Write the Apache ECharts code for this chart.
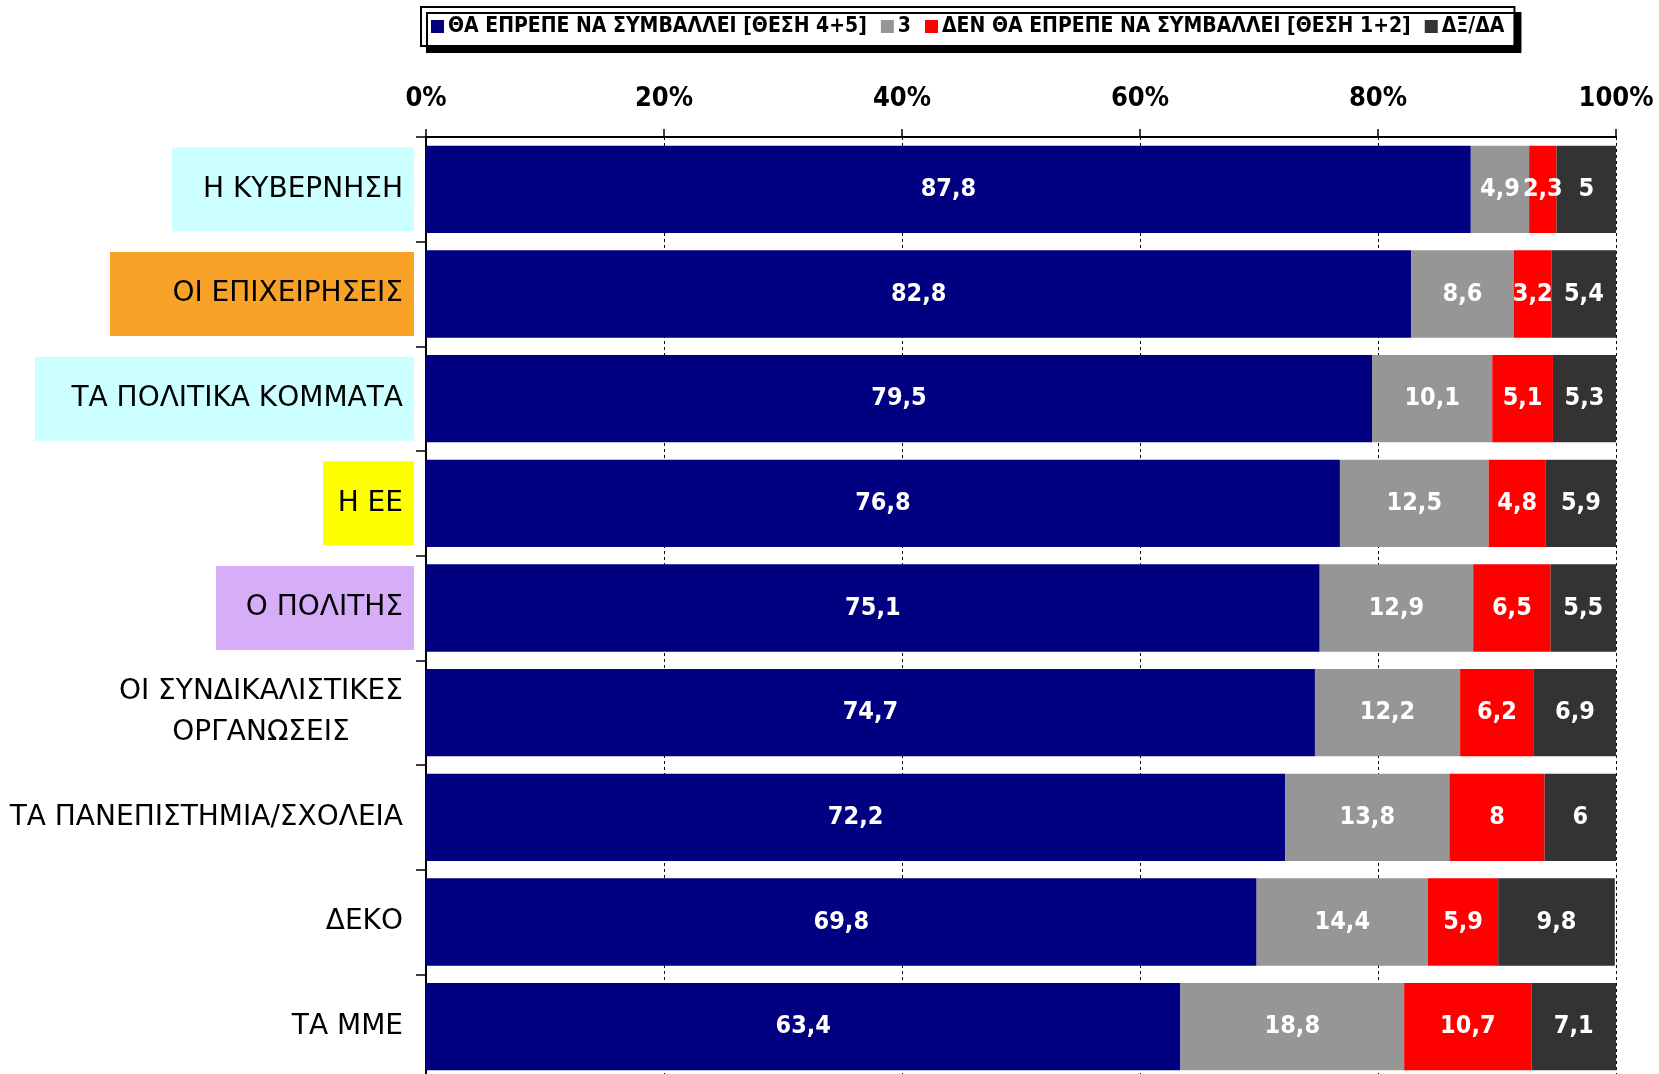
<!DOCTYPE html>
<html>
<head>
<meta charset="utf-8">
<script src="https://cdn.jsdelivr.net/npm/echarts@6/dist/echarts.min.js"></script>
<style>
  html, body { margin: 0; padding: 0; background: #fff; }
  #chart { width: 1659px; height: 1074px; }
</style>
</head>
<body>
<div id="chart"></div>
<script>
// data
const categories = [
  'Η ΚΥΒΕΡΝΗΣΗ',
  'ΟΙ ΕΠΙΧΕΙΡΗΣΕΙΣ',
  'ΤΑ ΠΟΛΙΤΙΚΑ ΚΟΜΜΑΤΑ',
  'Η ΕΕ',
  'Ο ΠΟΛΙΤΗΣ',
  'ΟΙ ΣΥΝΔΙΚΑΛΙΣΤΙΚΕΣ\nΟΡΓΑΝΩΣΕΙΣ',
  'ΤΑ ΠΑΝΕΠΙΣΤΗΜΙΑ/ΣΧΟΛΕΙΑ',
  'ΔΕΚΟ',
  'ΤΑ ΜΜΕ'
]
const seriesNames = ['ΘΑ ΕΠΡΕΠΕ ΝΑ ΣΥΜΒΑΛΛΕΙ [ΘΕΣΗ 4+5]', '3', 'ΔΕΝ ΘΑ ΕΠΡΕΠΕ ΝΑ ΣΥΜΒΑΛΛΕΙ [ΘΕΣΗ 1+2]', 'ΔΞ/ΔΑ']
const shouldContribute = [87.8, 82.8, 79.5, 76.8, 75.1, 74.7, 72.2, 69.8, 63.4]
const neutral = [4.9, 8.6, 10.1, 12.5, 12.9, 12.2, 13.8, 14.4, 18.8]
const shouldNot = [2.3, 3.2, 5.1, 4.8, 6.5, 6.2, 8, 5.9, 10.7]
const dontKnow = [5, 5.4, 5.3, 5.9, 5.5, 6.9, 6, 9.8, 7.1]

// styling
const colors = ['#000080', '#969696', '#FF0000', '#333333']
const boxColors = ['#CCFFFF', '#F9A228', '#CCFFFF', '#FFFF00', '#D6ADF7']
const boxWidths = [231, 293, 368, 80, 187]
const labelFont = 28
const labelFamily = 'DejaVu Sans'

function textWidth(str, font) {
  const ctx = document.createElement('canvas').getContext('2d')
  ctx.font = font
  return ctx.measureText(str).width
}

const rich = {
  n: { fontSize: labelFont, fontFamily: labelFamily, color: '#000', padding: [0, 11, 0, 0] }
}
boxColors.forEach((c, i) => {
  rich['b' + i] = {
    fontSize: labelFont, fontFamily: labelFamily, color: '#000',
    backgroundColor: c, width: boxWidths[i], height: 84, lineHeight: 84,
    align: 'right', padding: [0, 11, 0, 0]
  }
})
const multiLines = categories[5].split('\n')
rich.u = {
  fontSize: labelFont, fontFamily: labelFamily, color: '#000',
  width: Math.max(...multiLines.map(l => textWidth(l, labelFont + 'px ' + labelFamily))),
  align: 'center', lineHeight: 41, padding: [0, 11, 0, 0]
}

function fmtLabel(p) {
  return String(p.value).replace('.', ',')
}

const dataLabel = {
  show: true,
  position: 'inside',
  color: '#fff',
  fontSize: 25,
  fontWeight: 'bold',
  fontFamily: 'DejaVu Sans Condensed',
  formatter: fmtLabel
}

const chart = echarts.init(document.getElementById('chart'))

const option = {
  animation: false,
  backgroundColor: '#fff',
  textStyle: { fontFamily: labelFamily },
  legend: {
    left: 421,
    top: 7,
    padding: [9, 10, 9, 10],
    itemWidth: 13,
    itemHeight: 13,
    itemGap: 14,
    icon: 'rect',
    backgroundColor: '#fff',
    borderColor: '#000',
    borderWidth: 2,
    shadowColor: '#000',
    shadowBlur: 0,
    shadowOffsetX: 6,
    shadowOffsetY: 6,
    textStyle: {
      fontSize: 21,
      fontWeight: 'bold',
      fontFamily: 'DejaVu Sans Condensed',
      color: '#000',
      padding: [0, 0, 0, -1]
    },
    data: seriesNames
  },
  grid: {
    left: 426,
    width: 1190,
    top: 137,
    height: 942,
    outerBoundsMode: 'none'
  },
  xAxis: {
    type: 'value',
    position: 'top',
    min: 0,
    max: 100,
    interval: 20,
    axisLine: { show: true, lineStyle: { color: '#000', width: 2 } },
    axisTick: { show: true, length: 8, lineStyle: { color: '#000', width: 1.5 } },
    axisLabel: {
      formatter: '{value}%',
      color: '#000',
      fontSize: 27,
      fontWeight: 'bold',
      fontFamily: 'DejaVu Sans Condensed',
      margin: 25
    },
    splitLine: { show: true, lineStyle: { color: '#000', width: 1, type: [3, 3] } }
  },
  yAxis: {
    type: 'category',
    inverse: true,
    data: categories,
    axisLine: { show: true, lineStyle: { color: '#000', width: 2 } },
    axisTick: { show: true, length: 10, lineStyle: { color: '#000', width: 1.5 } },
    axisLabel: {
      margin: 12,
      formatter: (value, idx) => {
        if (idx < boxColors.length) return '{b' + idx + '|' + value + '}'
        if (value.indexOf('\n') >= 0) return value.split('\n').map(l => '{u|' + l + '}').join('\n')
        return '{n|' + value + '}'
      },
      rich: rich
    }
  },
  series: [shouldContribute, neutral, shouldNot, dontKnow].map((arr, i) => ({
    name: seriesNames[i],
    type: 'bar',
    stack: 'total',
    barCategoryGap: '16.6%',
    itemStyle: { color: colors[i] },
    label: dataLabel,
    data: arr
  }))
}

chart.setOption(option)
</script>
</body>
</html>
